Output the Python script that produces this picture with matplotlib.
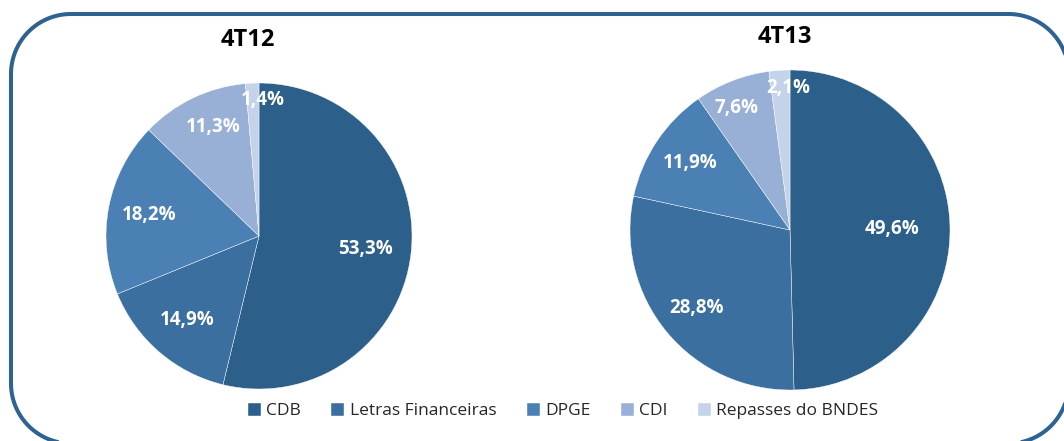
import matplotlib.pyplot as plt
import numpy as np

categories = ["CDB", "Letras Financeiras", "DPGE", "CDI", "Repasses do BNDES"]
titles = ["4T12", "4T13"]
vals_4t12 = [53.3, 14.9, 18.2, 11.3, 1.4]
vals_4t13 = [49.6, 28.8, 11.9, 7.6, 2.1]
labels_4t12 = ["53,3%", "14,9%", "18,2%", "11,3%", "1,4%"]
labels_4t13 = ["49,6%", "28,8%", "11,9%", "7,6%", "2,1%"]

colors = ["#2c5f8a", "#3a6fa0", "#4a80b3", "#98b0d6", "#c4d3ea"]
W, H = 1064, 441

fig = plt.figure(figsize=(W / 100, H / 100), dpi=100)
ax = fig.add_axes([0, 0, 1, 1])


def rounded_frame(x0, y0, x1, y1, r):
    # corner centres, going counter-clockwise from bottom-right
    pts = []
    for cx, cy, a0 in [(x1 - r, y0 + r, -90), (x1 - r, y1 - r, 0),
                       (x0 + r, y1 - r, 90), (x0 + r, y0 + r, 180)]:
        t = np.deg2rad(np.linspace(a0, a0 + 90, 30))
        pts.append(np.column_stack([cx + r * np.cos(t), cy + r * np.sin(t)]))
    pts = np.vstack(pts + [pts[0][:1]])
    return pts[:, 0], pts[:, 1]


fx, fy = rounded_frame(11, H - 443.5, 1068.5, H - 14, 60)
ax.plot(fx, fy, color="#2e6291", lw=2.9, solid_capstyle="round")

pies = [
    (vals_4t12, labels_4t12, (259, H - 236), 153,
     [0.70, 0.72, 0.73, 0.77, 0.89], [0, 0, 0, -3, -4], (248, H - 40)),
    (vals_4t13, labels_4t13, (790, H - 230), 160,
     [0.64, 0.76, 0.75, 0.83, 0.89], [0, 0, 0, 2.5, -3], (785, H - 37)),
]

for (vals, labs, c, r, dists, offs, tpos), title in zip(pies, titles):
    wedges, _ = ax.pie(vals, colors=colors, startangle=90, counterclock=False,
                       center=c, radius=r, frame=True,
                       wedgeprops=dict(edgecolor="white", linewidth=0.3))
    for w, lab, d, o in zip(wedges, labs, dists, offs):
        ang = np.deg2rad((w.theta1 + w.theta2) / 2 + o)
        ax.text(c[0] + d * r * np.cos(ang), c[1] + d * r * np.sin(ang), lab,
                ha="center", va="center", color="white", fontsize=13.5,
                fontweight="bold", family="Open Sans")
    ax.text(tpos[0], tpos[1], title, ha="center", va="center", fontsize=17,
            fontweight="bold", family="Open Sans", color="black")

ax.set_xlim(0, W)
ax.set_ylim(0, H)
ax.set_aspect("auto")
ax.axis("off")

leg = fig.legend(wedges, categories, loc="center", bbox_to_anchor=(563 / W, 1 - 411 / H),
                 ncol=5, frameon=False, handlelength=0.75, handleheight=0.8,
                 handletextpad=0.3, columnspacing=1.75,
                 prop={"family": "Open Sans", "size": 12.5})
for t in leg.get_texts():
    t.set_color("#262626")

fig.savefig("out.png", dpi=100)
